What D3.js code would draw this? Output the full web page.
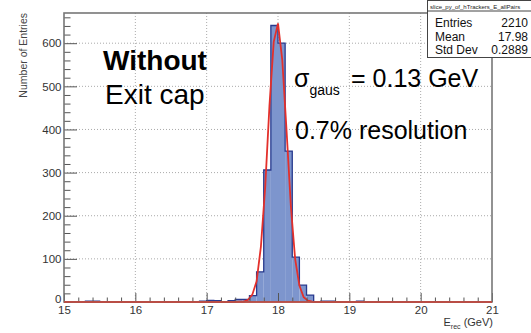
<!DOCTYPE html>
<html>
<head>
<meta charset="utf-8">
<script src="https://cdn.jsdelivr.net/npm/d3@7"></script>
<style>
  body { margin: 0; background: #fff; }
  text { font-family: "Liberation Sans", Arial, sans-serif; }
</style>
</head>
<body>
<div id="chart"></div>
<script>
// Histogram: 60 bins of 0.1 GeV from 15 to 21 (left edges + counts)
const binStarts = d3.range(60).map(i => +(15 + i * 0.1).toFixed(1));
const binCounts = [
    0, 0, 0, 2, 2, 0, 0, 0, 0, 0,        // 15.0 - 15.9
    0, 1, 0, 0, 0, 0, 0, 1, 0, 2,        // 16.0 - 16.9
    4, 3, 0, 3, 6, 6, 15, 70, 306, 641,  // 17.0 - 17.9
    600, 350, 104, 39, 16, 0, 2, 2, 0, 0, // 18.0 - 18.9
    0, 2, 0, 0, 0, 0, 0, 0, 0, 0,        // 19.0 - 19.9
    0, 0, 0, 0, 0, 0, 0, 0, 0, 0         // 20.0 - 20.9
];

// Gaussian fit curve, as drawn (polyline points)
const fitX = [15, 17.40, 17.46, 17.52, 17.58, 17.64, 17.70, 17.76, 17.82, 17.88, 17.94, 18.00,
              18.06, 18.12, 18.18, 18.24, 18.30, 18.36, 18.42, 18.48, 18.54, 21];
const fitY = [0, 0, 1, 1, 5, 17, 48, 128, 265, 454, 603, 646,
              561, 397, 223, 100, 38, 11, 3, 1, 0, 0];

// Axis ticks
const xMajor = [15, 16, 17, 18, 19, 20, 21];
const yMajor = [0, 100, 200, 300, 400, 500, 600];

// Stats box
const statsTitle = "slice_py_of_hTrackers_E_allPairs";
const statsNames = ["Entries", "Mean", "Std Dev"];
const statsValues = ["2210", "17.98", "0.2889"];

const margin = { top: 13, right: 39, bottom: 31, left: 64 };
const W = 531, H = 333;
const width = W - margin.left - margin.right;
const height = H - margin.top - margin.bottom;

const svg = d3.select("#chart").append("svg")
    .attr("width", W).attr("height", H);

const g = svg.append("g")
    .attr("transform", `translate(${margin.left},${margin.top})`);

const x = d3.scaleLinear().domain([15, 21]).range([0, width]);
const y = d3.scaleLinear().domain([0, 670]).range([height, 0]);

// Grid
g.append("g").selectAll("line")
    .data(xMajor.slice(1, -1))
    .join("line")
    .attr("x1", d => x(d)).attr("x2", d => x(d))
    .attr("y1", 0).attr("y2", height)
    .attr("stroke", "#aaa").attr("stroke-width", 1)
    .attr("stroke-dasharray", "1,2");

g.append("g").selectAll("line")
    .data(yMajor.slice(1))
    .join("line")
    .attr("x1", 0).attr("x2", width)
    .attr("y1", d => y(d)).attr("y2", d => y(d))
    .attr("stroke", "#aaa").attr("stroke-width", 1)
    .attr("stroke-dasharray", "1,2");

// Histogram fill
const bw = 0.1;
g.append("g").selectAll("rect")
    .data(binStarts.map((s, i) => ({ s, c: binCounts[i] })).filter(d => d.c > 0))
    .join("rect")
    .attr("x", d => x(d.s))
    .attr("width", d => x(d.s + bw) - x(d.s))
    .attr("y", d => y(d.c))
    .attr("height", d => y(0) - y(d.c))
    .attr("fill", "#7d95cd");

// Histogram outline (steps)
const stepPts = binStarts.map((s, i) => [s, binCounts[i]]);
stepPts.push([21, binCounts[binCounts.length - 1]]);
g.append("path")
    .datum(stepPts)
    .attr("fill", "none")
    .attr("stroke", "#283a8e")
    .attr("stroke-width", 1.3)
    .attr("d", d3.line().x(d => x(d[0])).y(d => y(d[1])).curve(d3.curveStepAfter));

// Fit
g.append("path")
    .datum(fitX.map((v, i) => [v, fitY[i]]))
    .attr("fill", "none")
    .attr("stroke", "#e3302b")
    .attr("stroke-width", 1.8)
    .attr("d", d3.line().x(d => x(d[0])).y(d => y(d[1])));

// Axes
const axisColor = "#555";
const xAxis = g.append("g").attr("transform", `translate(0,${height})`)
    .call(d3.axisBottom(x).tickValues(xMajor).tickSize(-9).tickPadding(4).tickFormat(d3.format("d")));
const xMinor = g.append("g").attr("transform", `translate(0,${height})`)
    .call(d3.axisBottom(x).tickValues(d3.range(15, 21.001, 0.2).filter(v => Math.abs(v - Math.round(v)) > 0.01))
        .tickSize(-4.5).tickFormat(""));
const yAxis = g.append("g")
    .call(d3.axisLeft(y).tickValues(yMajor).tickSize(-13).tickPadding(2.5).tickFormat(d3.format("d")));
const yMinor = g.append("g")
    .call(d3.axisLeft(y).tickValues(d3.range(0, 661, 20).filter(v => v % 100 !== 0))
        .tickSize(-6.5).tickFormat(""));

[xAxis, xMinor, yAxis, yMinor].forEach(a => {
    a.select(".domain").remove();
    a.selectAll("line").attr("stroke", axisColor).attr("stroke-width", 1);
    a.selectAll("text").attr("fill", "#333").style("font-size", "11.5px")
        .style("font-family", "'Liberation Sans', Arial, sans-serif");
});
// lift the "0" label a little off the "15" below it
yAxis.selectAll(".tick").filter(d => d === 0).select("text").attr("dy", "0.05em");

// Frame
g.append("rect")
    .attr("x", 0).attr("y", 0).attr("width", width).attr("height", height)
    .attr("fill", "none").attr("stroke", "#777").attr("stroke-width", 1.6);

// Red fit baseline drawn over the axis
g.append("line")
    .attr("x1", x(15)).attr("x2", x(21)).attr("y1", y(0)).attr("y2", y(0))
    .attr("stroke", "#c8443a").attr("stroke-width", 1.6);

// Axis titles
svg.append("text")
    .attr("transform", `translate(27,${margin.top}) rotate(-90)`)
    .attr("text-anchor", "end")
    .attr("fill", "#444")
    .style("font-size", "10.5px")
    .text("Number of Entries");

const xt = svg.append("text")
    .attr("x", margin.left + width + 1).attr("y", 326)
    .attr("text-anchor", "end")
    .attr("fill", "#333")
    .style("font-size", "11px");
xt.append("tspan").text("E");
xt.append("tspan").attr("dy", 2.5).style("font-size", "7px").text("rec");
xt.append("tspan").attr("dy", -2.5).text(" (GeV)");

// Annotations
svg.append("text").attr("x", 103).attr("y", 70)
    .style("font-size", "28px").style("font-weight", "bold").attr("fill", "#000")
    .text("Without");
svg.append("text").attr("x", 105).attr("y", 104)
    .style("font-size", "28px").attr("fill", "#000")
    .text("Exit cap");

const sig = svg.append("text").attr("x", 294).attr("y", 87)
    .style("font-size", "25px").attr("fill", "#000");
sig.append("tspan").text("σ");
sig.append("tspan").attr("dy", 8).style("font-size", "14px").text("gaus");
sig.append("tspan").attr("dy", -8).attr("x", 351).text("= 0.13 GeV");

svg.append("text").attr("x", 295).attr("y", 139)
    .style("font-size", "25px").attr("fill", "#000")
    .text("0.7% resolution");

// Stats box
const sb = svg.append("g");
sb.append("rect")
    .attr("x", 427.5).attr("y", 0.5).attr("width", 110).attr("height", 57)
    .attr("fill", "#fff").attr("stroke", "#444").attr("stroke-width", 1);
sb.append("line")
    .attr("x1", 427.5).attr("x2", 531).attr("y1", 11).attr("y2", 11)
    .attr("stroke", "#444").attr("stroke-width", 1);
sb.append("text").attr("x", 430).attr("y", 8.5)
    .style("font-size", "6px").attr("fill", "#222")
    .text(statsTitle);
statsNames.forEach((n, i) => {
    sb.append("text").attr("x", 435).attr("y", 27 + i * 13.5)
        .style("font-size", "12px").attr("fill", "#111").text(n);
    sb.append("text").attr("x", 528).attr("y", 27 + i * 13.5)
        .attr("text-anchor", "end")
        .style("font-size", "12px").attr("fill", "#111").text(statsValues[i]);
});
</script>
</body>
</html>
